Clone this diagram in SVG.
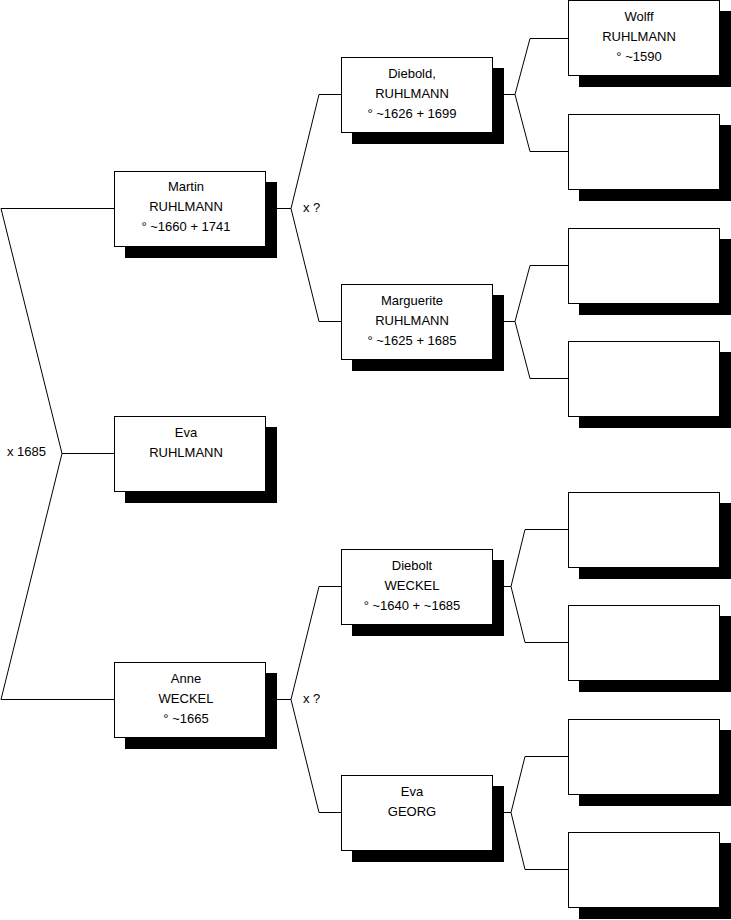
<svg xmlns="http://www.w3.org/2000/svg" width="731" height="920" viewBox="0 0 731 920">
<defs>
<style>
.box{fill:#fff;stroke:#000;stroke-width:1}
.sh{fill:#000}
.ln{fill:none;stroke:#000;stroke-width:1}
text{font-family:"Liberation Sans",Arial,sans-serif;font-size:13px;fill:#000}
.c{text-anchor:middle}
</style>
</defs>
<rect width="731" height="920" fill="#fff"/>
<g id="connectors">
<polyline class="ln" points="114,208.5 1,208.5 62,453.5 1,699.5 114,699.5"/>
<line class="ln" x1="62" y1="453.5" x2="114" y2="453.5"/>
<polyline class="ln" points="341,94.5 319,94.5 291,208.5 319,321.5 341,321.5"/>
<line class="ln" x1="265" y1="208.5" x2="291" y2="208.5"/>
<polyline class="ln" points="341,586.5 319,586.5 291,699.5 319,812.5 341,812.5"/>
<line class="ln" x1="265" y1="699.5" x2="291" y2="699.5"/>
<polyline class="ln" points="568,38.5 530,38.5 515,94.5 530,151.5 568,151.5"/>
<line class="ln" x1="492" y1="94.5" x2="515" y2="94.5"/>
<polyline class="ln" points="568,265.5 530,265.5 515,321.5 530,378.5 568,378.5"/>
<line class="ln" x1="492" y1="321.5" x2="515" y2="321.5"/>
<polyline class="ln" points="568,529.5 525,529.5 511,586.5 525,642.5 568,642.5"/>
<line class="ln" x1="492" y1="586.5" x2="511" y2="586.5"/>
<polyline class="ln" points="568,756.5 525,756.5 511,812.5 525,869.5 568,869.5"/>
<line class="ln" x1="492" y1="812.5" x2="511" y2="812.5"/>
<text x="7" y="456">x 1685</text>
<text x="303" y="212">x ?</text>
<text x="303" y="703">x ?</text>
</g>
<g id="martin">
<rect class="sh" x="125" y="182" width="152" height="76"/>
<rect class="box" x="114.5" y="171.5" width="151" height="75"/>
<text class="c" x="186" y="191">Martin</text>
<text class="c" x="186" y="211">RUHLMANN</text>
<text class="c" x="186" y="231">° ~1660 + 1741</text>
</g>
<g id="eva-ruhlmann">
<rect class="sh" x="125" y="427" width="152" height="76"/>
<rect class="box" x="114.5" y="416.5" width="151" height="75"/>
<text class="c" x="186" y="437">Eva</text>
<text class="c" x="186" y="457">RUHLMANN</text>
</g>
<g id="anne">
<rect class="sh" x="125" y="673" width="152" height="76"/>
<rect class="box" x="114.5" y="662.5" width="151" height="75"/>
<text class="c" x="186" y="683">Anne</text>
<text class="c" x="186" y="703">WECKEL</text>
<text class="c" x="186" y="723">° ~1665</text>
</g>
<g id="diebold">
<rect class="sh" x="352" y="68" width="152" height="76"/>
<rect class="box" x="341.5" y="57.5" width="151" height="75"/>
<text class="c" x="412" y="78">Diebold,</text>
<text class="c" x="412" y="98">RUHLMANN</text>
<text class="c" x="412" y="118">° ~1626 + 1699</text>
</g>
<g id="marguerite">
<rect class="sh" x="352" y="295" width="152" height="76"/>
<rect class="box" x="341.5" y="284.5" width="151" height="75"/>
<text class="c" x="412" y="305">Marguerite</text>
<text class="c" x="412" y="325">RUHLMANN</text>
<text class="c" x="412" y="345">° ~1625 + 1685</text>
</g>
<g id="diebolt">
<rect class="sh" x="352" y="560" width="152" height="76"/>
<rect class="box" x="341.5" y="549.5" width="151" height="75"/>
<text class="c" x="412" y="570">Diebolt</text>
<text class="c" x="412" y="590">WECKEL</text>
<text class="c" x="412" y="610">° ~1640 + ~1685</text>
</g>
<g id="eva-georg">
<rect class="sh" x="352" y="786" width="152" height="76"/>
<rect class="box" x="341.5" y="775.5" width="151" height="75"/>
<text class="c" x="412" y="796">Eva</text>
<text class="c" x="412" y="816">GEORG</text>
</g>
<g id="wolff">
<rect class="sh" x="579" y="11" width="152" height="76"/>
<rect class="box" x="568.5" y="0.5" width="151" height="75"/>
<text class="c" x="639" y="21">Wolff</text>
<text class="c" x="639" y="41">RUHLMANN</text>
<text class="c" x="639" y="61">° ~1590</text>
</g>
<g id="p2">
<rect class="sh" x="579" y="125" width="152" height="76"/>
<rect class="box" x="568.5" y="114.5" width="151" height="75"/>
</g>
<g id="p3">
<rect class="sh" x="579" y="239" width="152" height="76"/>
<rect class="box" x="568.5" y="228.5" width="151" height="75"/>
</g>
<g id="p4">
<rect class="sh" x="579" y="352" width="152" height="76"/>
<rect class="box" x="568.5" y="341.5" width="151" height="75"/>
</g>
<g id="p5">
<rect class="sh" x="579" y="503" width="152" height="76"/>
<rect class="box" x="568.5" y="492.5" width="151" height="75"/>
</g>
<g id="p6">
<rect class="sh" x="579" y="616" width="152" height="76"/>
<rect class="box" x="568.5" y="605.5" width="151" height="75"/>
</g>
<g id="p7">
<rect class="sh" x="579" y="730" width="152" height="76"/>
<rect class="box" x="568.5" y="719.5" width="151" height="75"/>
</g>
<g id="p8">
<rect class="sh" x="579" y="843" width="152" height="76"/>
<rect class="box" x="568.5" y="832.5" width="151" height="75"/>
</g>
</svg>
